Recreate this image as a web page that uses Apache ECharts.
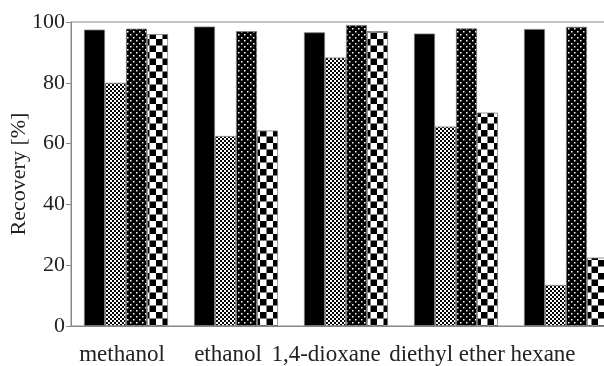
<!DOCTYPE html>
<html>
<head>
<meta charset="utf-8">
<script src="https://cdn.jsdelivr.net/npm/echarts@6/dist/echarts.min.js"></script>
<style>
  html, body { margin: 0; padding: 0; background: #fff; overflow: hidden; }
  /* the plot frame runs past the right edge of the window */
  #chart { width: 622px; height: 366px; }
</style>
</head>
<body>
<div id="chart"></div>
<script>
// Solvents and recovery values (%) for the four measured series
const solvents = ['methanol', 'ethanol', '1,4-dioxane', 'diethyl ether', 'hexane'];
const seriesA = [97.5, 98.5, 96.6, 96.2, 97.7];
const seriesB = [80.0, 62.5, 88.3, 65.6, 13.5];
const seriesC = [97.8, 97.0, 99.0, 97.9, 98.4];
const seriesD = [96.0, 64.3, 97.0, 70.2, 22.5];
const yTicks = [0, 20, 40, 60, 80, 100];

// Fill patterns drawn on small tiles
function tile(size, draw) {
  const c = document.createElement('canvas');
  c.width = size; c.height = size;
  const g = c.getContext('2d');
  draw(g);
  return c;
}
const fineChecker = tile(4, g => {
  g.fillStyle = '#fff'; g.fillRect(0, 0, 4, 4);
  g.fillStyle = '#000'; g.fillRect(0, 0, 2, 2); g.fillRect(2, 2, 2, 2);
});
const dots = tile(6, g => {
  g.fillStyle = '#000'; g.fillRect(0, 0, 6, 6);
  g.fillStyle = '#fff'; g.fillRect(1, 1, 1.5, 1.5); g.fillRect(4, 4, 1.5, 1.5);
});
const bigChecker = tile(13, g => {
  g.fillStyle = '#fff'; g.fillRect(0, 0, 13, 13);
  g.fillStyle = '#000'; g.fillRect(0, 0, 6.5, 6.5); g.fillRect(6.5, 6.5, 6.5, 6.5);
});

const fills = ['#000', { image: fineChecker, repeat: 'repeat' },
               { image: dots, repeat: 'repeat' }, { image: bigChecker, repeat: 'repeat' }];
const labelShift = [4, 8, 20, 9, 23];

const chart = echarts.init(document.getElementById('chart'), null, { renderer: 'canvas' });
const font = 'Liberation Serif';
const textColor = '#222';

const mkSeries = (data, i) => ({
  type: 'bar',
  data: data,
  barWidth: 21,
  barGap: '0%',
  itemStyle: { color: fills[i], borderColor: '#777', borderWidth: 0.8 },
  animation: false
});

chart.setOption({
  animation: false,
  grid: {
    left: 71, right: 1, top: 22, bottom: 40,
    containLabel: false, outerBoundsMode: 'none',
    show: true, borderColor: '#888', borderWidth: 1
  },
  xAxis: {
    type: 'category',
    data: solvents.map((s, i) => ({ value: s, textStyle: { padding: [0, labelShift[i] * 2, 0, 0] } })),
    axisLine: { lineStyle: { color: '#888', width: 1 } },
    axisTick: { show: false },
    axisLabel: { fontFamily: font, fontSize: 23, color: textColor, margin: 17, interval: 0 }
  },
  yAxis: {
    type: 'value',
    min: yTicks[0], max: yTicks[yTicks.length - 1], interval: 20,
    name: 'Recovery [%]',
    nameLocation: 'middle',
    nameGap: 41,
    nameMoveOverlap: false,
    nameTextStyle: { fontFamily: font, fontSize: 22, color: textColor },
    axisLine: { show: true, lineStyle: { color: '#888', width: 1 } },
    axisTick: { show: true, length: 5, lineStyle: { color: '#888' } },
    splitLine: { show: false },
    axisLabel: { fontFamily: font, fontSize: 22, color: textColor, margin: 6 }
  },
  series: [seriesA, seriesB, seriesC, seriesD].map(mkSeries)
});
</script>
</body>
</html>
